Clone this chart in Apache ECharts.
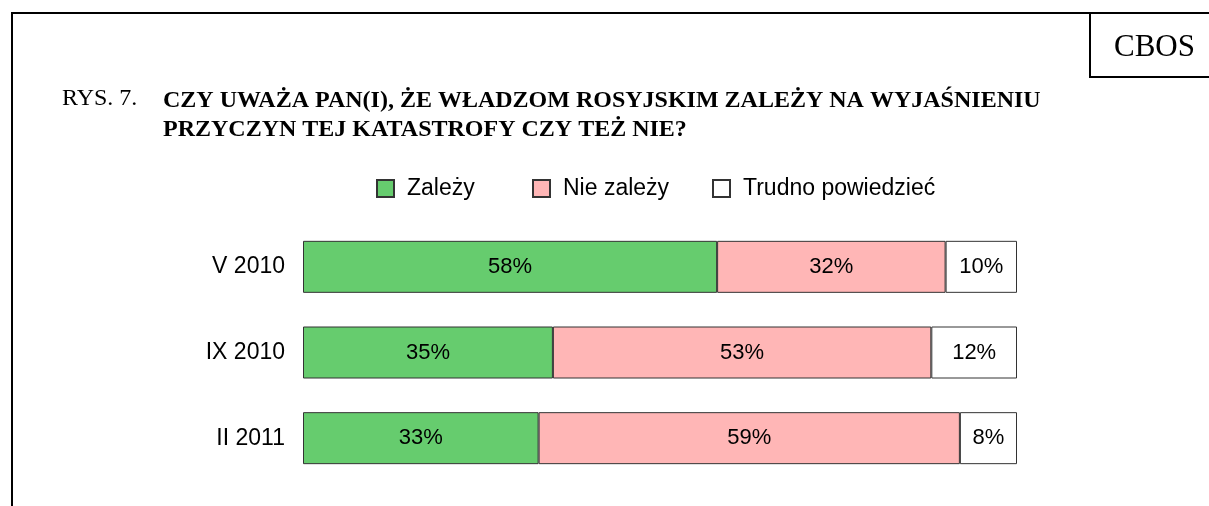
<!DOCTYPE html>
<html>
<head>
<meta charset="utf-8">
<script src="https://cdn.jsdelivr.net/npm/echarts@6/dist/echarts.min.js"></script>
<style>
  html, body { margin: 0; padding: 0; background: #fff; }
  #chart { width: 1209px; height: 506px; }
</style>
</head>
<body>
<div id="chart"></div>
<script>
// dane z rysunku
const categories = ['V 2010', 'IX 2010', 'II 2011'];
const zalezy = [58, 35, 33];
const nieZalezy = [32, 53, 59];
const trudno = [10, 12, 8];
const seriesNames = ['Zależy', 'Nie zależy', 'Trudno powiedzieć'];

const chart = echarts.init(document.getElementById('chart'));

const makeSeries = (name, data, color) => ({
  name: name,
  type: 'bar',
  stack: 'all',
  barWidth: 52,
  data: data,
  itemStyle: {
    color: color,
    borderColor: '#333',
    borderWidth: 1
  },
  label: {
    show: true,
    position: 'inside',
    formatter: '{c}%',
    color: '#000',
    fontFamily: 'Arial, Liberation Sans',
    fontSize: 22
  },
  emphasis: { disabled: true }
});

// osobna legenda dla kazdej pozycji, bo odstepy nie sa rowne
const makeLegend = (name, left) => ({
  data: [name],
  left: left,
  top: 177,
  padding: 0,
  itemWidth: 17,
  itemHeight: 17,
  icon: 'rect',
  textStyle: {
    fontFamily: 'Arial, Liberation Sans',
    fontSize: 23,
    color: '#000',
    padding: [0, 0, 0, 8]
  }
});

chart.setOption({
  animation: false,
  title: [
    {
      text: 'RYS. 7.',
      left: 62,
      top: 87,
      padding: 0,
      textStyle: {
        fontFamily: 'Times New Roman, Liberation Serif',
        fontWeight: 'normal',
        fontSize: 24,
        color: '#000'
      }
    },
    {
      text: 'CZY UWAŻA PAN(I), ŻE WŁADZOM ROSYJSKIM ZALEŻY NA WYJAŚNIENIU\nPRZYCZYN TEJ KATASTROFY CZY TEŻ NIE?',
      left: 163,
      top: 86,
      padding: 0,
      textStyle: {
        fontFamily: 'Times New Roman, Liberation Serif',
        fontWeight: 'bold',
        fontSize: 24,
        lineHeight: 29,
        color: '#000'
      }
    },
    {
      text: 'CBOS',
      left: 1114,
      top: 32,
      padding: 0,
      textStyle: {
        fontFamily: 'Times New Roman, Liberation Serif',
        fontWeight: 'normal',
        fontSize: 31,
        color: '#000'
      }
    }
  ],
  graphic: [
    {
      type: 'polyline',
      shape: { points: [[12, 506], [12, 13], [1209, 13]] },
      style: { stroke: '#000', lineWidth: 2, fill: null }
    },
    {
      type: 'polyline',
      shape: { points: [[1090, 13], [1090, 77], [1209, 77]] },
      style: { stroke: '#000', lineWidth: 2, fill: null }
    }
  ],
  legend: [
    makeLegend(seriesNames[0], 376),
    makeLegend(seriesNames[1], 532),
    makeLegend(seriesNames[2], 712)
  ],
  grid: {
    left: 303,
    right: 192,
    top: 224,
    bottom: 25
  },
  xAxis: {
    type: 'value',
    min: 0,
    max: 100,
    show: false
  },
  yAxis: {
    type: 'category',
    data: categories,
    inverse: true,
    axisLine: { show: false },
    axisTick: { show: false },
    axisLabel: {
      margin: 18,
      padding: [5, 0, 0, 0],
      color: '#000',
      fontFamily: 'Arial, Liberation Sans',
      fontSize: 23
    }
  },
  series: [
    makeSeries(seriesNames[0], zalezy, '#66cc6e'),
    makeSeries(seriesNames[1], nieZalezy, '#ffb6b6'),
    makeSeries(seriesNames[2], trudno, '#ffffff')
  ]
});
</script>
</body>
</html>
